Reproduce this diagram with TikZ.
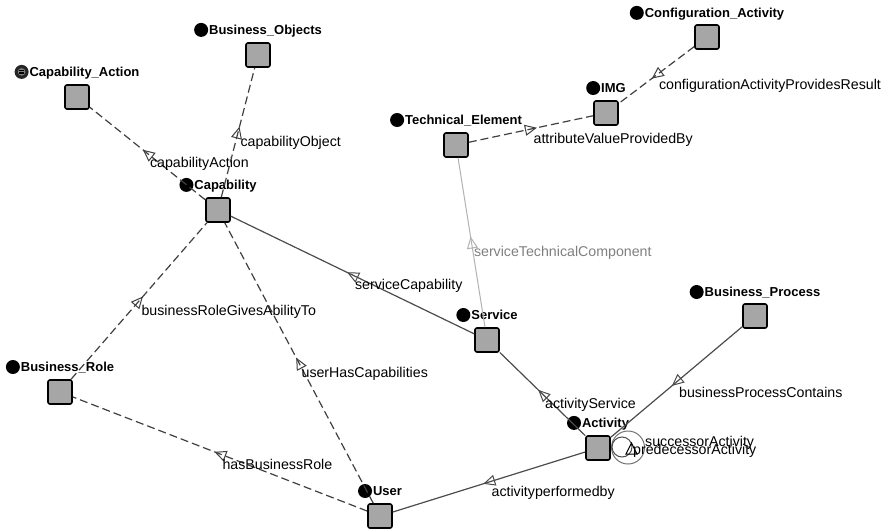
\documentclass[tikz,border=0pt]{standalone}
\usepackage{fontspec}
\setmainfont{Liberation Sans}
\usetikzlibrary{arrows.meta,decorations.markings}
\newcommand{\ontodot}{\tikz[baseline={(0pt,-4.5pt)}]\fill[black] (0pt,0pt) circle[radius=7pt];\hspace{1pt}}
\newcommand{\ontoicon}{\tikz[baseline={(0pt,-4.5pt)}]{\fill[black!85] (0pt,0pt) circle[radius=7pt];\fill[gray] (0pt,0pt) circle[radius=3.8pt];\draw[black,line width=0.6pt] (-2.4pt,-1.5pt)--(2.4pt,-1.5pt) (-2.4pt,0pt)--(2.4pt,0pt) (-2.4pt,1.5pt)--(2.4pt,1.5pt);}\hspace{1pt}}
\tikzset{
  concept/.style={draw=black, line width=1.6pt, fill=black!35, rounded corners=2pt, minimum size=24pt, inner sep=0pt},
  clabel/.style={inner sep=0pt, font=\fontsize{13}{15}\selectfont\bfseries},
  midtri/.style={postaction={decorate}, decoration={markings, mark=at position 0.5 with {\arrow[xshift=6pt,solid,line width=1pt]{Triangle[open,length=12pt,width=11pt]}}}},
  dedge/.style={draw=black!75, line width=1.2pt, dash pattern=on 8pt off 4pt, midtri},
  sedge/.style={draw=black!70, line width=1.2pt, midtri},
  ledge/.style={draw=black!30, line width=1pt, midtri},
  ltext/.style={inner sep=0pt, text=black, font=\fontsize{14.2}{16}\selectfont},
  elbl/.style={ltext, pos=0.5, anchor=west, xshift=2pt, yshift=-10.5pt},
  lelbl/.style={elbl, text=black!50},
}
\begin{document}
\begin{tikzpicture}[x=1pt, y=-1pt]
\useasboundingbox[fill=white] (0,0) rectangle (884,531);
% concepts
\node[concept] (capa) at (77,97) {};
\node[concept] (bobj) at (258,55) {};
\node[concept] (cap) at (218,210) {};
\node[concept] (tech) at (456,145) {};
\node[concept] (img) at (606,113) {};
\node[concept] (conf) at (707,37) {};
\node[concept] (serv) at (487,340) {};
\node[concept] (bproc) at (755,316) {};
\node[concept] (brole) at (60,392) {};
\node[concept] (user) at (380,516) {};
\node[concept] (act) at (598,448) {};
% concept labels
\node[clabel] (capaL) at (77,72) {\ontoicon Capability\_Action};
\node[clabel] (bobjL) at (258,30) {\ontodot Business\_Objects};
\node[clabel] (capL) at (218,185) {\ontodot Capability};
\node[clabel] (techL) at (456,120) {\ontodot Technical\_Element};
\node[clabel] (imgL) at (606,88) {\ontodot IMG};
\node[clabel] (confL) at (707,13) {\ontodot Configuration\_Activity};
\node[clabel] (servL) at (487,315) {\ontodot Service};
\node[clabel] (bprocL) at (755,292) {\ontodot Business\_Process};
\node[clabel] (broleL) at (60,367) {\ontodot Business\_Role};
\node[clabel] (userL) at (380,491) {\ontodot User};
\node[clabel] (actL) at (598,423) {\ontodot Activity};
% edges
\draw[dedge] (cap) -- (capa) node[elbl] (e1) {capabilityAction};
\draw[dedge] (cap) -- (bobj) node[elbl] (e2) {capabilityObject};
\draw[sedge] (serv) -- (cap) node[elbl] (e3) {serviceCapability};
\draw[dedge] (brole) -- (cap) node[elbl] (e4) {businessRoleGivesAbilityTo};
\draw[dedge] (user) -- (cap) node[elbl] (e5) {userHasCapabilities};
\draw[dedge] (user) -- (brole) node[elbl] (e6) {hasBusinessRole};
\draw[dedge] (tech) -- (img) node[elbl] (e7) {attributeValueProvidedBy};
\draw[dedge] (conf) -- (img) node[elbl] (e8) {configurationActivityProvidesResult};
\draw[ledge] (serv) -- (tech) node[lelbl] (e9) {serviceTechnicalComponent};
\draw[sedge] (act) -- (serv) node[elbl] (e10) {activityService};
\draw[sedge] (bproc) -- (act) node[elbl] (e11) {businessProcessContains};
\draw[sedge] (act) -- (user) node[elbl] (e12) {activityperformedby};
% self loops on Activity
\draw[black!55, line width=1pt] (628,447.5) circle[radius=16.5];
\draw[black!70, line width=1pt] (622,447) circle[radius=10];
\draw[black, line width=1pt] (626,454) -- (631.5,443) -- (637,454) -- cycle;
\node[ltext, anchor=west] (succ) at (645,443) {successorActivity};
\node[ltext, anchor=west] (pred) at (633,451) {predecessorActivity};
\end{tikzpicture}
\end{document}
